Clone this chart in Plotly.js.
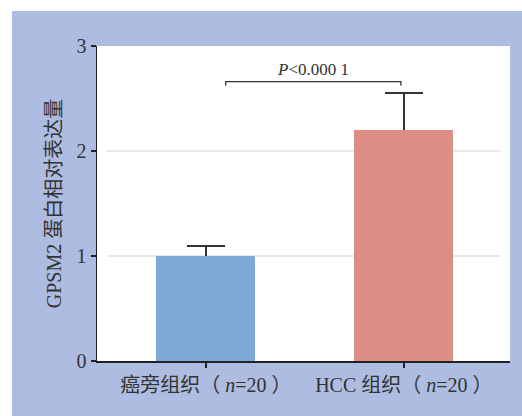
<!DOCTYPE html>
<html><head><meta charset="utf-8">
<script src="https://cdn.plot.ly/plotly-3.0.1.min.js"></script>
<style>
html,body{margin:0;padding:0;background:#fff;width:522px;height:416px;overflow:hidden}
#chart{position:absolute;left:12px;top:11px;width:510px;height:405px}
</style></head>
<body><div id="chart"></div>
<script>
var categories = ['癌旁组织（ <i>n</i>=20 ）', 'HCC 组织（ <i>n</i>=20 ）'];
var means = [1.0, 2.2];
var errors = [0.1, 0.35];
var barColors = ['#7fa9d5', '#dc8e84'];
var yTicks = [0, 1, 2, 3];
var gridValues = [1, 2];
var pLabel = '<i>P</i><0.000 1';
var bracketY = 2.66;
var bracketX = [0.1, 0.985];

var serif = '"Liberation Serif", "Noto Sans CJK SC", serif';
var xIdx = categories.map(function(_, i){ return i; });

var errTrace = {
  type: 'bar', x: xIdx, y: means, width: 0.5,
  marker: {color: 'rgba(0,0,0,0)', line: {width: 0}},
  error_y: {type: 'data', array: errors, arrayminus: errors, visible: true,
            color: '#333', thickness: 2, width: 19},
  hoverinfo: 'skip', showlegend: false
};
var barTrace = {
  type: 'bar', x: xIdx, y: means, width: 0.5,
  marker: {color: barColors, line: {width: 0}},
  showlegend: false
};

var shapes = gridValues.map(function(v){
  return {type: 'line', xref: 'paper', yref: 'y', x0: 0.024, x1: 0.978, y0: v, y1: v,
          line: {color: '#e2e2e2', width: 1.5}, layer: 'below'};
});
shapes.push({type: 'path', xref: 'x', yref: 'y',
  path: 'M' + bracketX[0] + ',' + (bracketY - 0.035) + ' L' + bracketX[0] + ',' + bracketY +
        ' L' + bracketX[1] + ',' + bracketY + ' L' + bracketX[1] + ',' + (bracketY - 0.035),
  line: {color: '#333', width: 1.3}});

var layout = {
  width: 510, height: 405,
  margin: {l: 85, r: 12, t: 35, b: 55},
  paper_bgcolor: '#adbce0', plot_bgcolor: '#ffffff',
  barmode: 'overlay', bargap: 0,
  showlegend: false,
  font: {family: serif, color: '#333', size: 20},
  xaxis: {range: [-0.55, 1.536], tickvals: xIdx, ticktext: categories,
          showgrid: false, zeroline: false, showline: true, linecolor: '#222', linewidth: 1.5,
          ticks: 'outside', ticklen: 5, tickwidth: 1.5, tickcolor: '#222',
          tickfont: {family: serif, size: 20, color: '#333'}, fixedrange: true},
  yaxis: {range: [0, 3], tickvals: yTicks, ticktext: yTicks.map(String),
          showgrid: false, zeroline: false, showline: true, linecolor: '#222', linewidth: 1.5,
          ticks: 'outside', ticklen: 5, tickwidth: 1.5, tickcolor: '#222',
          tickfont: {family: serif, size: 20, color: '#333'},
          title: {text: 'GPSM2 蛋白相对表达量', font: {family: serif, size: 20, color: '#333'}, standoff: 9},
          fixedrange: true},
  shapes: shapes,
  annotations: [{xref: 'x', yref: 'y', x: (bracketX[0] + bracketX[1]) / 2, y: bracketY,
    yanchor: 'bottom', yshift: 1, text: pLabel, showarrow: false,
    font: {family: serif, size: 17, color: '#333'}}]
};

Plotly.newPlot('chart', [errTrace, barTrace], layout, {displayModeBar: false, staticPlot: true});
</script></body></html>
